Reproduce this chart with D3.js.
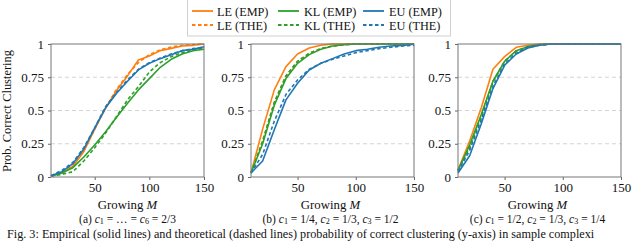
<!DOCTYPE html>
<html><head><meta charset="utf-8">
<script src="https://cdn.jsdelivr.net/npm/d3@7"></script>
<style>
html,body{margin:0;padding:0;background:#fff;}
svg{display:block;font-family:"Liberation Serif","Times New Roman",serif;}
</style></head>
<body>
<script>
// ---- data ----
const M = [10,20,30,40,50,60,70,80,90,100,110,120,130,140,150];
const yTicks = [0,0.25,0.5,0.75,1];
const yTickLabels = ["0","0.25","0.5","0.75","1"];
const xTicks = [50,100,150];

// panel (a)
const aLE_EMP = [0.01,0.03,0.08,0.19,0.36,0.52,0.65,0.76,0.88,0.91,0.95,0.967,0.985,0.99,1.0];
const aLE_THE = [0.01,0.04,0.09,0.20,0.36,0.52,0.66,0.77,0.86,0.92,0.957,0.977,0.99,0.995,1.0];
const aKL_EMP = [0.005,0.03,0.07,0.15,0.24,0.34,0.45,0.555,0.655,0.74,0.825,0.885,0.925,0.95,0.96];
const aKL_THE = [0.005,0.02,0.04,0.12,0.22,0.33,0.455,0.58,0.68,0.79,0.86,0.905,0.935,0.955,0.97];
const aEU_EMP = [0.01,0.04,0.10,0.21,0.37,0.52,0.63,0.72,0.805,0.855,0.89,0.92,0.95,0.96,0.98];
const aEU_THE = [0.01,0.05,0.11,0.22,0.37,0.53,0.635,0.73,0.81,0.86,0.895,0.925,0.95,0.965,0.975];

// panel (b)
const bLE_EMP = [0.03,0.36,0.655,0.83,0.925,0.97,0.99,1,1,1,1,1,1,1,1];
const bLE_THE = [0.03,0.27,0.56,0.76,0.87,0.93,0.965,0.985,0.995,1,1,1,1,1,1];
const bKL_EMP = [0.03,0.25,0.54,0.74,0.855,0.92,0.96,0.985,0.995,1,1,1,1,1,1];
const bKL_THE = [0.03,0.27,0.56,0.76,0.87,0.93,0.965,0.985,0.995,1,1,1,1,1,1];
const bEU_EMP = [0.03,0.12,0.355,0.58,0.705,0.805,0.855,0.89,0.925,0.95,0.96,0.975,0.985,0.99,0.998];
const bEU_THE = [0.03,0.17,0.42,0.62,0.73,0.81,0.855,0.885,0.91,0.935,0.95,0.965,0.975,0.985,0.99];

// panel (c)
const cLE_EMP = [0.053,0.27,0.52,0.81,0.905,0.975,0.99,1,1,1,1,1,1,1,1];
const cLE_THE = [0.05,0.23,0.46,0.72,0.87,0.948,0.98,0.994,1,1,1,1,1,1,1];
const cKL_EMP = [0.05,0.24,0.47,0.72,0.87,0.95,0.98,0.995,1,1,1,1,1,1,1];
const cKL_THE = [0.05,0.22,0.45,0.71,0.87,0.945,0.98,0.993,1,1,1,1,1,1,1];
const cEU_EMP = [0.03,0.16,0.40,0.665,0.84,0.925,0.97,0.99,1,1,1,1,1,1,1];
const cEU_THE = [0.04,0.20,0.43,0.68,0.85,0.93,0.975,0.99,1,1,1,1,1,1,1];

const seriesNames = ["LE (EMP)","KL (EMP)","EU (EMP)","LE (THE)","KL (THE)","EU (THE)"];
const colors = {LE:"#ff7f0e", KL:"#2ca02c", EU:"#1f77b4"};
const captionText = "Fig. 3: Empirical (solid lines) and theoretical (dashed lines) probability of correct clustering (y-axis) in sample complexi";

const panels = [
  {x0:51, x1:204, series:{LE_EMP:aLE_EMP,LE_THE:aLE_THE,KL_EMP:aKL_EMP,KL_THE:aKL_THE,EU_EMP:aEU_EMP,EU_THE:aEU_THE}, cap:[["(a) ",""],["c","i"],["1","sub"],[" = … = ",""],["c","i"],["6","sub"],[" = 2/3",""]]},
  {x0:251, x1:414, series:{LE_EMP:bLE_EMP,LE_THE:bLE_THE,KL_EMP:bKL_EMP,KL_THE:bKL_THE,EU_EMP:bEU_EMP,EU_THE:bEU_THE}, cap:[["(b) ",""],["c","i"],["1","sub"],[" = 1/4, ",""],["c","i"],["2","sub"],[" = 1/3, ",""],["c","i"],["3","sub"],[" = 1/2",""]]},
  {x0:458, x1:621, series:{LE_EMP:cLE_EMP,LE_THE:cLE_THE,KL_EMP:cKL_EMP,KL_THE:cKL_THE,EU_EMP:cEU_EMP,EU_THE:cEU_THE}, cap:[["(c) ",""],["c","i"],["1","sub"],[" = 1/2, ",""],["c","i"],["2","sub"],[" = 1/3, ",""],["c","i"],["3","sub"],[" = 1/4",""]]}
];

const W=640,H=241, yTop=44, yBot=177;
const svg = d3.select("body").append("svg").attr("width",W).attr("height",H);
const y = d3.scaleLinear().domain([0,1]).range([yBot,yTop]);
const order = ["LE_EMP","LE_THE","KL_EMP","KL_THE","EU_EMP","EU_THE"];

function fitSize(str, targetW){
  const t = svg.append("text").attr("font-size",20).text(str);
  const w = t.node().getComputedTextLength();
  t.remove();
  return 20*targetW/w;
}
const fsTick = fitSize("150",19.5);
const fsLeg = fitSize("LE (EMP)",51.5);
const fsXl = Math.min(fitSize("Growing M",61), 12.8);
const fsYl = fitSize("Prob. Correct Clustering",122);
const fsCap = Math.min(fitSize(captionText,633), 12.2);
const fsSub = 11.5;

panels.forEach((p,pi)=>{
  const x = d3.scaleLinear().domain([10,150]).range([p.x0,p.x1]);
  const g = svg.append("g");
  g.selectAll("line.grid").data([0.25,0.5,0.75]).enter().append("line")
    .attr("x1",p.x0).attr("x2",p.x1).attr("y1",d=>y(d)).attr("y2",d=>y(d))
    .attr("stroke","#cfcfcf").attr("stroke-width",0.9).attr("stroke-dasharray","4,3");
  const xa = g.append("g").attr("transform",`translate(0,${yBot})`)
    .call(d3.axisBottom(x).tickValues(xTicks).tickSize(3).tickPadding(3));
  const ya = g.append("g").attr("transform",`translate(${p.x0},0)`)
    .call(d3.axisLeft(y).tickValues(yTicks).tickFormat((d,i)=>yTickLabels[i]).tickSize(3).tickPadding(4));
  [xa,ya].forEach(a=>{
    a.select(".domain").remove();
    a.selectAll(".tick line").attr("stroke","#666");
    a.selectAll(".tick text").attr("font-size",fsTick).attr("fill","#111")
      .attr("font-family","'Liberation Serif','Times New Roman',serif");
  });
  order.forEach(k=>{
    const [m,t] = k.split("_");
    const vals = p.series[k];
    const line = d3.line().x((d,i)=>x(M[i])).y(d=>y(d));
    g.append("path").datum(vals).attr("d",line).attr("fill","none")
      .attr("stroke",colors[m]).attr("stroke-width",1.6)
      .attr("stroke-linejoin","round")
      .attr("stroke-dasharray", t==="THE" ? "3.5,2.5" : null);
  });
  g.append("rect").attr("x",p.x0).attr("y",yTop).attr("width",p.x1-p.x0).attr("height",yBot-yTop)
    .attr("fill","none").attr("stroke","#777").attr("stroke-width",1);
  const cx = (p.x0+p.x1)/2 - (pi===0?0:2);
  const xl = g.append("text").attr("x",cx).attr("y",208.5).attr("text-anchor","middle")
    .attr("font-size",fsXl).attr("fill","#111");
  xl.append("tspan").text("Growing ");
  xl.append("tspan").attr("font-style","italic").text("M");
  const sc = g.append("text").attr("x",cx).attr("y",222.5).attr("text-anchor","middle")
    .attr("font-size",fsSub).attr("fill","#111");
  p.cap.forEach(([s,st],j)=>{
    const ts = sc.append("tspan").text(s);
    if(st==="i") ts.attr("font-style","italic");
    if(st==="sub") ts.attr("font-size",fsSub*0.7).attr("dy",1.5);
    const prev = j>0 ? p.cap[j-1][1] : "";
    if(prev==="sub" && st!=="sub") ts.attr("dy",-1.5);
  });
});

svg.append("text").attr("transform","translate(11,111) rotate(-90)")
  .attr("text-anchor","middle").attr("font-size",fsYl).attr("fill","#111")
  .text("Prob. Correct Clustering");

const lg = svg.append("g");
lg.append("rect").attr("x",187.5).attr("y",-2).attr("width",263).attr("height",38)
  .attr("fill","#fff").attr("stroke","#d0d0d0").attr("stroke-width",1);
const colX = [{l:192,t:217},{l:278,t:304},{l:363,t:389}];
seriesNames.forEach((name,i)=>{
  const col = i%3, row = Math.floor(i/3);
  const key = name.slice(0,2);
  const yy = row===0 ? 11 : 25;
  lg.append("line").attr("x1",colX[col].l).attr("x2",colX[col].l+21).attr("y1",yy).attr("y2",yy)
    .attr("stroke",colors[key]).attr("stroke-width",1.8)
    .attr("stroke-dasharray", row===1 ? "3.5,2.5" : null);
  lg.append("text").attr("x",colX[col].t).attr("y",yy+4.5).attr("font-size",fsLeg).attr("fill","#111").text(name);
});

svg.append("text").attr("x",7).attr("y",238).attr("font-size",fsCap).attr("fill","#111")
  .text(captionText);
</script>
</body></html>
